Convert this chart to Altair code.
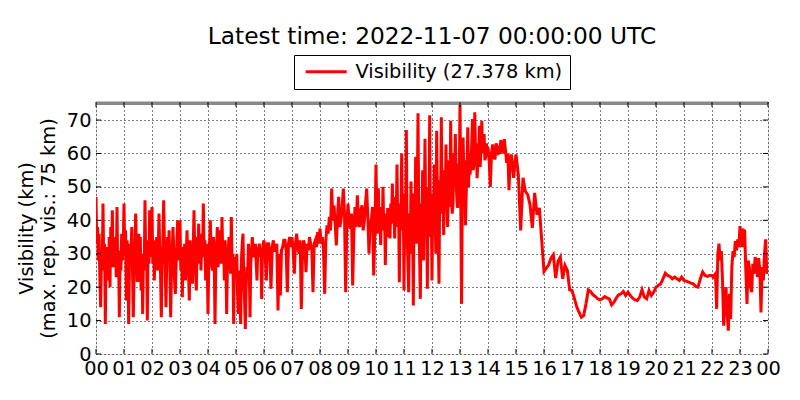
import altair as alt
import pandas as pd

# Visibility (km) samples, one list per hour (00..23); evenly spaced within each hour
h00 = [47, 33, 38, 28, 36, 22, 14, 30, 26, 45, 25, 33, 9, 32, 24, 30, 22, 35, 20, 38, 28, 43, 26, 34, 27, 35, 23, 44, 24, 31, 11, 30, 25, 36, 28, 33]
h01 = [45, 30, 37, 16, 34, 26, 9, 27, 33, 30, 38, 24, 11, 25, 31, 42, 31, 22, 22, 36, 28, 35, 19, 30, 12, 30, 25, 46, 26, 34, 10, 33, 27, 43, 29, 36]
h02 = [44, 27, 33, 22, 34, 28, 35, 25, 31, 42, 30, 24, 11, 28, 33, 46, 33, 26, 14, 29, 35, 30, 37, 25, 11, 24, 31, 38, 31, 22, 18, 27, 33, 40, 33, 28]
h03 = [40, 25, 32, 17, 31, 26, 33, 22, 29, 37, 29, 24, 16, 34, 27, 28, 21, 32, 43, 30, 25, 19, 35, 28, 39, 27, 33, 25, 36, 29, 45, 30, 34, 22, 33, 27]
h04 = [12, 28, 33, 40, 31, 26, 25, 35, 29, 9, 27, 32, 38, 26, 31, 30, 37, 27, 41, 29, 34, 22, 34, 28, 12, 27, 31, 35, 30, 24, 41, 24, 30, 9, 29, 26]
h05 = [24, 30, 18, 12, 25, 20, 9, 28, 33, 36, 22, 16, 7.5, 20, 26, 24, 33, 28, 11, 27, 31, 35, 31, 29, 30, 33, 27, 22, 32, 30, 33, 29, 31, 16.5, 31, 33]
h06 = [34, 30, 22, 33, 33, 30, 19.5, 32, 34, 31, 31, 33, 13, 30, 17.5, 31, 32, 34, 34, 31, 18.5, 33, 35, 32]
h07 = [35, 31, 24, 33, 36, 32, 30, 34, 13.5, 31, 34, 32, 24.5, 33, 31, 35, 33, 31, 18.5, 33, 34, 32, 36.5, 33]
h08 = [37.5, 33, 35, 31, 18, 34, 38.5, 36, 41, 37, 49.5, 40, 44.5, 39, 32.5, 41, 47, 38, 40, 44, 49.5, 42, 18.5, 38]
h09 = [45, 39, 37.5, 42, 20.5, 36, 44, 38, 47.5, 40, 38, 43, 44.5, 37, 40, 45, 49.5, 41, 30, 39, 40, 44, 23.5, 36]
h10 = [56.7, 42, 36, 49.6, 38, 44, 32.6, 44, 38, 50, 37, 42, 26.6, 40, 35, 43.7, 36, 40, 34.6, 45, 39, 51, 39, 44, 34.6, 47, 40, 56.7, 38, 45, 21.5, 44, 37, 60, 40, 48]
h11 = [19, 45, 35, 67, 35, 28, 18.5, 42, 31, 51.6, 30, 40, 14.5, 48, 36, 59, 33, 45, 72, 40, 30, 16.5, 45, 38, 55, 28, 42, 64.4, 38, 48, 19.5, 50, 35, 71.4, 36, 44]
h12 = [22, 48, 38, 56.7, 40, 30, 66.8, 45, 35, 21, 52, 42, 70.8, 42, 50, 35.6, 55, 45, 62.7, 46, 38, 49, 58, 44, 69.8, 50, 42, 44.6, 60, 50, 65.8, 52, 46, 43.7, 57, 50]
h13 = [75.3, 45, 15, 50, 64.8, 52, 58, 38.5, 48, 55, 67.8, 50, 60, 53.7, 58, 62, 70.3, 55, 57, 72.3, 60, 63, 52.6, 58, 60, 68.3, 56, 62, 69.8, 60, 64, 65.8, 58, 59, 63, 60]
h14 = [61.8, 58, 50, 60, 62.7, 59, 58.2, 63, 62, 60, 60.2, 64, 62, 60, 64.3, 61, 57.2, 60, 49, 58, 59.7, 56, 52.7, 57]
h15 = [59.7, 53.7, 37, 52.7, 48.7, 47.7, 44.7, 37.7, 48.2, 41.7, 43.7, 34.2]
h16 = [24.7, 25.7, 26.7, 28.7, 29.7, 22.7, 27.7, 29, 22.5, 26.5, 25, 19.2]
h17 = [19, 16.7, 14.2, 12.5, 11, 11.5, 15, 19.2, 18.7, 17.7, 17.2, 16.5]
h18 = [16.2, 16.5, 17.2, 16.8, 16.5, 14.7, 15.5, 16.8, 17.7, 18, 18.7, 17.5]
h19 = [18.5, 17.5, 16.7, 16.2, 16, 17, 19.2, 17, 16.5, 19, 17.5, 18.5]
h20 = [20, 20.5, 21, 22.5, 24.2, 23.5, 23.2, 22.5, 23, 22.5, 22, 23]
h21 = [22, 21.8, 21.5, 21.2, 21, 20.2, 20, 22.5, 24.5, 23.5, 23.2, 23.5]
h22 = [23.5, 23, 23.5, 24, 13.5, 30, 33, 28, 30.8, 22, 8.5, 15, 20, 12, 7, 18, 10.5, 26, 30.8, 29, 33.8, 31, 34.3, 32]
h23 = [38.3, 35, 32, 37, 36.8, 25, 15, 28, 26, 20, 18.5, 27, 24, 29, 27.7, 23, 28.7, 25, 12.4, 26, 22, 30, 34.3, 24]
last_value = 27.378

hours_data = [h00, h01, h02, h03, h04, h05, h06, h07, h08, h09, h10, h11,
              h12, h13, h14, h15, h16, h17, h18, h19, h20, h21, h22, h23]

x_ticks = list(range(0, 25))
y_ticks = [0, 10, 20, 30, 40, 50, 60, 70]
max_vis = 75
series_label = "Visibility (27.378 km)"
title_text = "Latest time: 2022-11-07 00:00:00 UTC"

rows = []
for h, vals in enumerate(hours_data):
    n = len(vals)
    for k, v in enumerate(vals):
        rows.append({"t": h + k / n, "vis": v, "series": series_label})
rows.append({"t": 24.0, "vis": last_value, "series": series_label})
df = pd.DataFrame(rows)

FONT = "DejaVu Sans"
W, H = 672, 252

xscale = alt.Scale(domain=[0, 24], nice=False, zero=False)
yscale = alt.Scale(domain=[0, 75.4], nice=False)

label_expr = "datum.value == 24 ? '00' : (datum.value < 10 ? '0' + datum.value : '' + datum.value)"

x_axis = alt.Axis(values=x_ticks, labelExpr=label_expr, title=None,
                  grid=True, gridColor="black", gridDash=[1, 3], gridWidth=1,
                  gridOpacity=1, ticks=False, domain=False,
                  labelFont=FONT, labelFontSize=19.4, labelColor="black",
                  labelPadding=5, labelFlush=False, labelOverlap=False)
y_axis = alt.Axis(values=y_ticks, title=["Visibility (km)", "(max. rep. vis.: 75 km)"],
                  grid=True, gridColor="black", gridDash=[1, 3], gridWidth=1,
                  gridOpacity=1, ticks=False, domain=False,
                  labelFont=FONT, labelFontSize=19.4, labelColor="black",
                  labelPadding=5, labelOverlap=False, labelFlush=False,
                  titleFont=FONT, titleFontSize=19.4,
                  titleFontWeight="normal", titleColor="black",
                  titleLineHeight=22, titlePadding=8)

line = alt.Chart(df).mark_line(strokeWidth=3, clip=True).encode(
    x=alt.X("t:Q", scale=xscale, axis=x_axis),
    y=alt.Y("vis:Q", scale=yscale, axis=y_axis),
    color=alt.Color("series:N",
                    scale=alt.Scale(domain=[series_label], range=["#ff0000"]),
                    legend=alt.Legend(title=None, orient="none", legendX=198, legendY=-47,
                                      symbolType="M-1,0H7.2", symbolSize=100,
                                      symbolStrokeWidth=3, labelFont=FONT,
                                      labelFontSize=19.4, labelColor="black",
                                      labelLimit=400, labelOffset=35, padding=7,
                                      strokeColor="black", fillColor="white",
                                      cornerRadius=0)),
)

maxline = alt.Chart(pd.DataFrame({"m": [max_vis]})).mark_rule(
    color="#888888", strokeWidth=3.5).encode(y=alt.Y("m:Q", scale=yscale, axis=y_axis))

xt = pd.DataFrame({"t": x_ticks})
yt = pd.DataFrame({"v": y_ticks})
xtick_bottom = alt.Chart(xt).mark_rule(color="black", strokeWidth=1).encode(
    x=alt.X("t:Q", scale=xscale, axis=x_axis), y=alt.value(H), y2=alt.value(H - 5))
xtick_top = alt.Chart(xt).mark_rule(color="black", strokeWidth=1).encode(
    x=alt.X("t:Q", scale=xscale, axis=x_axis), y=alt.value(0), y2=alt.value(5))
ytick_left = alt.Chart(yt).mark_rule(color="black", strokeWidth=1).encode(
    y=alt.Y("v:Q", scale=yscale, axis=y_axis), x=alt.value(0), x2=alt.value(5))
ytick_right = alt.Chart(yt).mark_rule(color="black", strokeWidth=1).encode(
    y=alt.Y("v:Q", scale=yscale, axis=y_axis), x=alt.value(W), x2=alt.value(W - 5))

chart = alt.layer(line, maxline, xtick_bottom, xtick_top, ytick_left, ytick_right).properties(
    width=W, height=H,
    title=alt.TitleParams(title_text, font=FONT, fontSize=23.3, fontWeight="normal",
                          color="black", anchor="middle", frame="group",
                          baseline="alphabetic", offset=-13),
    autosize=alt.AutoSizeParams(type="none"),
    padding={"left": 88, "top": 94, "right": 16, "bottom": 30},
).configure_view(stroke="black", strokeWidth=1.2).configure(background="white")

chart.save("out.html", embed_options={"renderer": "svg", "actions": False})
